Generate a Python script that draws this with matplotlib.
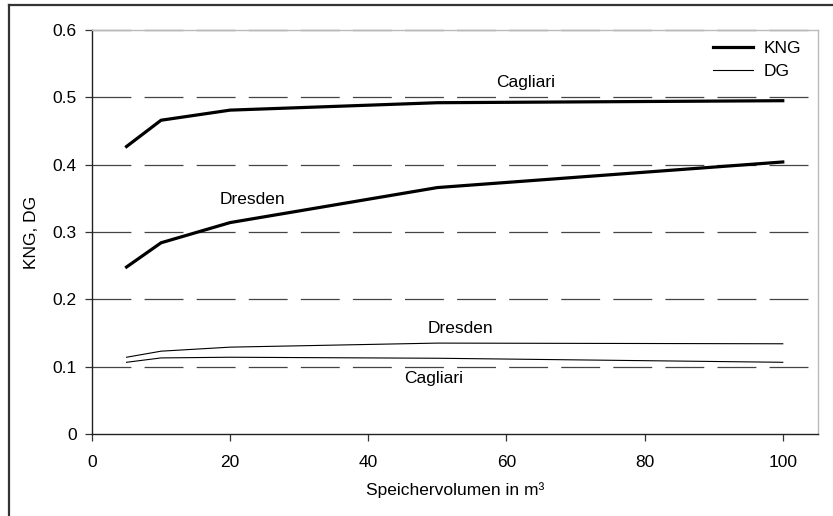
"""KNG / DG over Speichervolumen for Cagliari and Dresden."""
import matplotlib
matplotlib.use("Agg")
import matplotlib.pyplot as plt
from matplotlib.lines import Line2D

plt.rcParams["font.family"] = ["Liberation Sans", "DejaVu Sans"]
plt.rcParams["lines.scale_dashes"] = False

volumen = [5, 10, 20, 50, 100]
kng_cagliari = [0.427, 0.466, 0.481, 0.492, 0.495]
kng_dresden = [0.248, 0.284, 0.314, 0.366, 0.404]
dg_dresden = [0.114, 0.123, 0.129, 0.135, 0.134]
dg_cagliari = [0.1065, 0.113, 0.114, 0.1125, 0.1065]

x_ticks = [0, 20, 40, 60, 80, 100]
y_ticks = [0, 0.1, 0.2, 0.3, 0.4, 0.5, 0.6]

fs = 12.5
fig = plt.figure(figsize=(8.33, 5.16), dpi=100)
ax = fig.add_axes([92 / 833, 1 - 434 / 516, (818 - 92) / 833, (434 - 30) / 516])

# dashed horizontal grid
for yv in y_ticks[1:]:
    ax.axhline(yv, color="#444444", lw=0.9, linestyle=(0, (28, 9.5)),
               zorder=1, clip_on=False)

ax.plot(volumen, kng_cagliari, color="black", lw=2.3, label="KNG", zorder=3)
ax.plot(volumen, kng_dresden, color="black", lw=2.3, zorder=3)
ax.plot(volumen, dg_dresden, color="black", lw=0.8, label="DG", zorder=3)
ax.plot(volumen, dg_cagliari, color="black", lw=0.8, zorder=3)

ax.text(62.8, 0.522, "Cagliari", ha="center", va="center", fontsize=fs)
ax.text(23.2, 0.349, "Dresden", ha="center", va="center", fontsize=fs)
ax.text(53.4, 0.157, "Dresden", ha="center", va="center", fontsize=fs)
ax.text(49.5, 0.083, "Cagliari", ha="center", va="center", fontsize=fs)

ax.set_xlim(0, 105.1)
ax.set_ylim(0, 0.6)
ax.set_xticks(x_ticks)
ax.set_yticks(y_ticks)
ax.set_yticklabels(["0", "0.1", "0.2", "0.3", "0.4", "0.5", "0.6"])
ax.tick_params(direction="out", length=5, width=0.9, color="#333333",
               labelsize=fs, pad=6)
ax.tick_params(axis="x", pad=10)

for side in ["left", "bottom"]:
    ax.spines[side].set_color("#222222")
    ax.spines[side].set_linewidth(1.0)
for side in ["right", "top"]:
    ax.spines[side].set_color("#bbbbbb")
    ax.spines[side].set_linewidth(1.0)

ax.set_xlabel("Speichervolumen in m³", fontsize=fs, labelpad=9)
ax.set_ylabel("KNG, DG", fontsize=fs, labelpad=10)

ax.legend(loc="upper left", bbox_to_anchor=(713 / 833, 1 - 41 / 516),
          bbox_transform=fig.transFigure, frameon=False, fontsize=fs,
          handlelength=2.3, handletextpad=0.6, borderpad=0,
          borderaxespad=0, labelspacing=0.45)

# outer frame of the figure (left and top visible)
fig.add_artist(Line2D([9 / 833, 9 / 833], [0, 1 - 5 / 516], color="#333333",
                      lw=1.6, transform=fig.transFigure))
fig.add_artist(Line2D([9 / 833, 1], [1 - 5 / 516, 1 - 5 / 516], color="#333333",
                      lw=1.6, transform=fig.transFigure))

fig.savefig("out.png", dpi=100)
